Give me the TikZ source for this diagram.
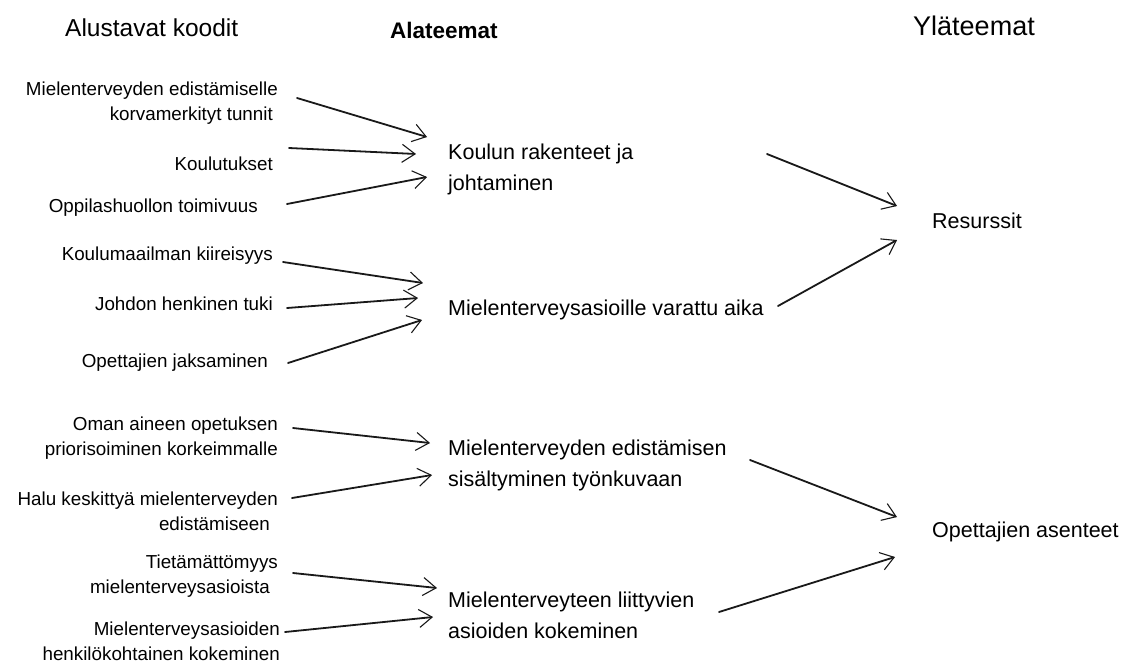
\documentclass[tikz,border=0pt]{standalone}
\usepackage{fontspec}
\setmainfont{Liberation Sans}
\usetikzlibrary{arrows.meta}
\tikzset{
  code/.style={inner sep=0pt, align=right, anchor=north east, font=\fontsize{18.8}{25}\selectfont},
  codeone/.style={inner sep=0pt, anchor=base east, font=\fontsize{18.8}{25}\selectfont},
  sub/.style={inner sep=0pt, align=left, anchor=north west, font=\fontsize{21.5}{31}\selectfont},
  subone/.style={inner sep=0pt, anchor=base west, font=\fontsize{21.5}{31}\selectfont},
  theme/.style={inner sep=0pt, anchor=base west, font=\fontsize{21.5}{31}\selectfont},
  head/.style={inner sep=0pt, anchor=base west},
  link/.style={draw=black!90, line width=1.8pt, line cap=round,
    -{Straight Barb[length=13pt,width=18pt,line width=1.1pt]}}
}
\begin{document}
\begin{tikzpicture}[x=1pt,y=-1pt]
\useasboundingbox[fill=white] (0,0) rectangle (1131,662);
% headings
\node[head, font=\fontsize{24.5}{28}\selectfont] (h1) at (65,36) {Alustavat koodit};
\node[head, font=\fontsize{22.5}{26}\selectfont\bfseries] (h2) at (390,38) {Alateemat};
\node[head, font=\fontsize{27}{30}\selectfont] (h3) at (913,35) {Yläteemat};
% codes
\node[code] (c1) at (278,{95-17.5}) {\strut Mielenterveyden edistämiselle\\korvamerkityt tunnit\hspace*{5pt}};
\node[codeone] (c2) at (273,170) {Koulutukset};
\node[codeone] (c3) at (258,212) {Oppilashuollon toimivuus};
\node[codeone] (c4) at (273,260) {Koulumaailman kiireisyys};
\node[codeone] (c5) at (273,310) {Johdon henkinen tuki};
\node[codeone] (c6) at (268,367) {Opettajien jaksaminen};
\node[code] (c7) at (278,{430-17.5}) {\strut Oman aineen opetuksen\\priorisoiminen korkeimmalle};
\node[code] (c8) at (278,{505-17.5}) {\strut Halu keskittyä mielenterveyden\\edistämiseen\hspace*{8pt}};
\node[code] (c9) at (278,{568-17.5}) {\strut Tietämättömyys\\mielenterveysasioista\hspace*{8pt}};
\node[code] (c10) at (280,{635-17.5}) {\strut Mielenterveysasioiden\\henkilökohtainen kokeminen};
% subthemes
\node[sub] (s1) at (448,{159-21.7}) {\strut Koulun rakenteet ja\\johtaminen};
\node[subone] (s2) at (448,315) {Mielenterveysasioille varattu aika};
\node[sub] (s3) at (448,{455-21.7}) {\strut Mielenterveyden edistämisen\\sisältyminen työnkuvaan};
\node[sub] (s4) at (448,{607-21.7}) {\strut Mielenterveyteen liittyvien\\asioiden kokeminen};
% themes
\node[theme] (t1) at (932,228) {Resurssit};
\node[theme] (t2) at (932,537) {Opettajien asenteet};
% connector ends
\coordinate (a1s) at (297,98);  \coordinate (a1e) at (427,137);
\coordinate (a2s) at (289,148); \coordinate (a2e) at (416,154);
\coordinate (a3s) at (287,204); \coordinate (a3e) at (427,177);
\coordinate (b1s) at (283,262); \coordinate (b1e) at (423,283);
\coordinate (b2s) at (287,308); \coordinate (b2e) at (418,298);
\coordinate (b3s) at (288,363); \coordinate (b3e) at (422,320);
\coordinate (d1s) at (293,428); \coordinate (d1e) at (430,443);
\coordinate (d2s) at (292,498); \coordinate (d2e) at (432,475);
\coordinate (e1s) at (293,573); \coordinate (e1e) at (437,588);
\coordinate (e2s) at (285,632); \coordinate (e2e) at (433,617);
\coordinate (r1s) at (767,154); \coordinate (r1e) at (897,206);
\coordinate (r2s) at (778,306); \coordinate (r2e) at (897,240);
\coordinate (o1s) at (750,460); \coordinate (o1e) at (897,517);
\coordinate (o2s) at (719,612); \coordinate (o2e) at (895,557);
% connectors
\foreach \p in {a1,a2,a3,b1,b2,b3,d1,d2,e1,e2,r1,r2,o1,o2}
  \draw[link] (\p s) -- (\p e);
\end{tikzpicture}
\end{document}
